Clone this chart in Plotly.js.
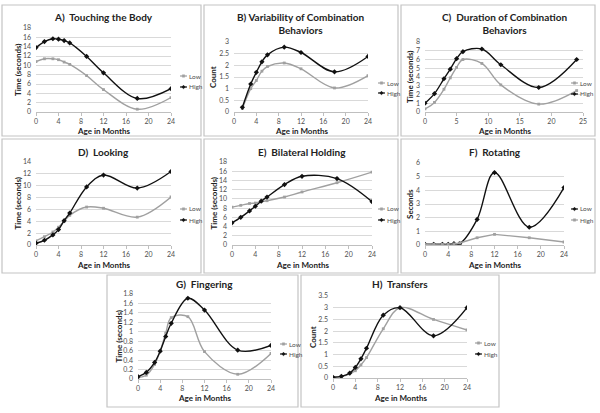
<!DOCTYPE html>
<html>
<head>
<meta charset="utf-8">
<script src="https://cdn.plot.ly/plotly-3.0.1.min.js"></script>
<style>
  html, body { margin: 0; padding: 0; background: #fff; }
  #chart { width: 600px; height: 413px; }
</style>
</head>
<body>
<div id="chart"></div>
<script>
// ages (months) at which observations were made
const ages = [0, 1.5, 3, 4, 5, 6, 9, 12, 18, 24];
const agesB = [1.5, 3, 4, 5, 6, 9, 12, 18, 24];

// A) Touching the Body
const touchLow = [10.8, 11.4, 11.4, 11.2, 10.7, 10.2, 7.8, 4.8, 0.6, 3.1];
const touchHigh = [13.8, 15.1, 15.7, 15.6, 15.3, 14.8, 11.9, 8.4, 2.9, 5.0];
// B) Variability of Combination Behaviors
const varLow = [0.15, 1.0, 1.35, 1.75, 1.95, 2.1, 1.85, 1.03, 1.56];
const varHigh = [0.2, 1.2, 1.7, 2.15, 2.45, 2.78, 2.55, 1.72, 2.38];
// C) Duration of Combination Behaviors
const durLow = [0.35, 1.1, 2.6, 3.9, 5.1, 6.0, 5.55, 3.1, 0.9, 2.45];
const durHigh = [1.0, 2.1, 3.8, 4.9, 6.1, 6.9, 7.2, 5.4, 2.8, 6.0];
// D) Looking
const lookLow = [0.7, 1.4, 2.2, 3.0, 4.0, 5.0, 6.4, 6.2, 4.7, 8.1];
const lookHigh = [0.3, 0.8, 1.7, 2.6, 4.1, 5.4, 9.8, 11.8, 9.6, 12.4];
// E) Bilateral Holding
const holdLow = [8.2, 8.6, 9.0, 9.1, 9.4, 9.6, 10.4, 11.5, 13.5, 15.8];
const holdHigh = [4.8, 6.0, 7.4, 8.4, 9.5, 10.4, 13.1, 14.9, 14.4, 9.4];
// F) Rotating (Low drawn black, High drawn gray in the original)
const rotLow = [0.05, 0.05, 0.05, 0.05, 0.1, 0.1, 1.87, 5.3, 1.3, 4.2];
const rotHigh = [0.05, 0.05, 0.05, 0.05, 0.08, 0.15, 0.53, 0.78, 0.53, 0.22];
// G) Fingering
const fingLow = [0.03, 0.08, 0.31, 0.59, 0.97, 1.3, 1.32, 0.58, 0.1, 0.54];
const fingHigh = [0.05, 0.14, 0.35, 0.59, 0.9, 1.18, 1.71, 1.46, 0.61, 0.71];
// H) Transfers
const transLow = [0.03, 0.06, 0.18, 0.31, 0.56, 0.87, 2.1, 3.0, 2.5, 2.05];
const transHigh = [0.03, 0.07, 0.21, 0.45, 0.82, 1.27, 2.68, 3.0, 1.8, 3.0];

const W = 600, H = 413;
const px = x => x / W;
const py = y => 1 - y / H;

const FONT = 'Lato, "Liberation Sans", sans-serif';
const GRAY = '#a0a0a0';
const BLACK = '#111111';
const TXT = '#505050';

// box = panel frame, plot = plot area, all in pixels [left, top, right, bottom]
const panels = [
    { title: 'A)  Touching the Body', ytitle: 'Time (seconds)', x: ages, low: touchLow, high: touchHigh,
      yr: [0, 18], dy: 2, xr: [0, 24], dx: 4, box: [2, 5, 201, 136], plot: [36, 28, 171, 112],
      titleY: 17, xtY: 131, ytX: 18, leg: [180, 76, 87] },
    { title: 'B) Variability of Combination<br>Behaviors', ytitle: 'Count', x: agesB, low: varLow, high: varHigh,
      yr: [0, 3], dy: 0.5, xr: [0, 24], dx: 4, box: [204, 5, 398, 136], plot: [234, 42, 368, 112],
      titleY: 23, xtY: 131, ytX: 213, leg: [378, 83, 93] },
    { title: 'C)  Duration of Combination<br>Behaviors', ytitle: 'Time (seconds)', x: ages, low: durLow, high: durHigh,
      yr: [0, 8], dy: 1, xr: [0, 25], dx: 5, box: [401, 5, 595, 136], plot: [425, 42, 583, 112],
      titleY: 23, xtY: 131, ytX: 410, leg: [571, 83, 94] },
    { title: 'D)  Looking', ytitle: 'Time (seconds)', x: ages, low: lookLow, high: lookHigh,
      yr: [0, 14], dy: 2, xr: [0, 24], dx: 4, box: [2, 139, 201, 273], plot: [36, 162, 171, 245],
      titleY: 152, xtY: 265, ytX: 18, leg: [180, 209, 220] },
    { title: 'E)  Bilateral Holding', ytitle: 'Time (seconds)', x: ages, low: holdLow, high: holdHigh,
      yr: [0, 18], dy: 2, xr: [0, 24], dx: 4, box: [204, 139, 398, 273], plot: [232, 162, 372, 245],
      titleY: 152, xtY: 265, ytX: 214, leg: [378, 209, 220] },
    { title: 'F)  Rotating', ytitle: 'Seconds', x: ages, low: rotLow, high: rotHigh, swap: true,
      yr: [0, 6], dy: 1, xr: [0, 24], dx: 4, box: [401, 139, 595, 273], plot: [425, 163, 564, 245],
      titleY: 152, xtY: 265, ytX: 410, leg: [571, 209, 220] },
    { title: 'G)  Fingering', ytitle: 'Time (seconds)', x: ages, low: fingLow, high: fingHigh,
      yr: [0, 1.8], dy: 0.2, xr: [0, 24], dx: 4, box: [107, 275, 298, 407], plot: [138, 294, 271, 379],
      titleY: 284, xtY: 398, ytX: 118, leg: [280, 344, 354] },
    { title: 'H)  Transfers', ytitle: 'Count', x: ages, low: transLow, high: transHigh,
      yr: [0, 3.5], dy: 0.5, xr: [0, 24], dx: 4, box: [301, 275, 499, 407], plot: [333, 296, 467, 378],
      titleY: 284, xtY: 398, ytX: 313, leg: [475, 343, 354] }
];

const traces = [];
const layout = {
    width: W, height: H,
    margin: { l: 0, r: 0, t: 0, b: 0 },
    paper_bgcolor: '#fff',
    plot_bgcolor: '#fff',
    showlegend: false,
    font: { family: FONT, size: 7, color: TXT },
    shapes: [],
    annotations: []
};

function legendMark(x, y, color, symbol) {
    layout.shapes.push({
        type: 'line', xref: 'paper', yref: 'paper',
        x0: px(x), x1: px(x + 7), y0: py(y), y1: py(y),
        line: { color: color, width: 1.2 }
    });
    const cx = x + 3.5, s = symbol === 'diamond' ? 1.8 : 1.2;
    const path = symbol === 'diamond'
        ? `M${px(cx)},${py(y - s)} L${px(cx + s)},${py(y)} L${px(cx)},${py(y + s)} L${px(cx - s)},${py(y)} Z`
        : `M${px(cx - s)},${py(y - s)} L${px(cx + s)},${py(y - s)} L${px(cx + s)},${py(y + s)} L${px(cx - s)},${py(y + s)} Z`;
    layout.shapes.push({
        type: 'path', xref: 'paper', yref: 'paper', path: path,
        fillcolor: color, line: { color: color, width: 0.5 }
    });
}

panels.forEach((p, i) => {
    const n = i === 0 ? '' : String(i + 1);
    const xa = 'x' + n, ya = 'y' + n;
    const [l, t, r, b] = p.plot;

    const lowColor = p.swap ? BLACK : GRAY;
    const highColor = p.swap ? GRAY : BLACK;
    const lowSym = p.swap ? 'diamond' : 'square';
    const highSym = p.swap ? 'square' : 'diamond';

    traces.push({
        x: p.x, y: p.low, xaxis: xa, yaxis: ya, name: 'Low',
        type: 'scatter', mode: 'lines+markers',
        line: { color: lowColor, width: 1.4, shape: 'spline', smoothing: 1 },
        marker: { color: lowColor, size: lowSym === 'diamond' ? 4 : 2.8, symbol: lowSym }
    });
    traces.push({
        x: p.x, y: p.high, xaxis: xa, yaxis: ya, name: 'High',
        type: 'scatter', mode: 'lines+markers',
        line: { color: highColor, width: 1.4, shape: p.swap ? 'linear' : 'spline', smoothing: 1 },
        marker: { color: highColor, size: highSym === 'diamond' ? 4 : 2.8, symbol: highSym }
    });

    layout['xaxis' + n] = {
        domain: [px(l), px(r)], anchor: ya, range: p.xr, dtick: p.dx, tick0: 0,
        showgrid: false, zeroline: false, showline: true, linecolor: '#bfbfbf', linewidth: 1,
        ticks: 'outside', ticklen: 3, tickcolor: '#bfbfbf',
        tickfont: { family: FONT, size: 7, color: TXT }, fixedrange: true
    };
    layout['yaxis' + n] = {
        domain: [py(b), py(t)], anchor: xa, range: p.yr, dtick: p.dy, tick0: 0,
        showgrid: true, gridcolor: '#d9d9d9', gridwidth: 1, zeroline: false,
        showline: false, ticks: '', ticklabelstandoff: 4,
        tickfont: { family: FONT, size: 7, color: TXT }, fixedrange: true
    };

    // panel frame
    layout.shapes.push({
        type: 'rect', xref: 'paper', yref: 'paper',
        x0: px(p.box[0]), x1: px(p.box[2]), y0: py(p.box[3]), y1: py(p.box[1]),
        line: { color: '#c4c4c4', width: 1.2 }
    });

    const cx = (l + r) / 2;
    layout.annotations.push({
        text: '<b>' + p.title + '</b>', xref: 'paper', yref: 'paper',
        x: px(cx), y: py(p.titleY), xanchor: 'center', yanchor: 'middle',
        showarrow: false, font: { family: FONT, size: 10, color: '#222' }
    });
    layout.annotations.push({
        text: '<b>Age in Months</b>', xref: 'paper', yref: 'paper',
        x: px(cx), y: py(p.xtY), xanchor: 'center', yanchor: 'middle',
        showarrow: false, font: { family: FONT, size: 8, color: '#222' }
    });
    layout.annotations.push({
        text: '<b>' + p.ytitle + '</b>', xref: 'paper', yref: 'paper',
        x: px(p.ytX), y: py((t + b) / 2), xanchor: 'center', yanchor: 'middle',
        textangle: -90, showarrow: false, font: { family: FONT, size: 8, color: '#222' }
    });

    // legend
    const [lx, ly1, ly2] = p.leg;
    legendMark(lx, ly1, lowColor, lowSym);
    legendMark(lx, ly2, highColor, highSym);
    layout.annotations.push({
        text: 'Low', xref: 'paper', yref: 'paper', x: px(lx + 7), y: py(ly1),
        xanchor: 'left', yanchor: 'middle', showarrow: false,
        font: { family: FONT, size: 6.5, color: TXT }
    });
    layout.annotations.push({
        text: 'High', xref: 'paper', yref: 'paper', x: px(lx + 7), y: py(ly2),
        xanchor: 'left', yanchor: 'middle', showarrow: false,
        font: { family: FONT, size: 6.5, color: TXT }
    });
});

Plotly.newPlot('chart', traces, layout, { staticPlot: true, displayModeBar: false });
</script>
</body>
</html>
